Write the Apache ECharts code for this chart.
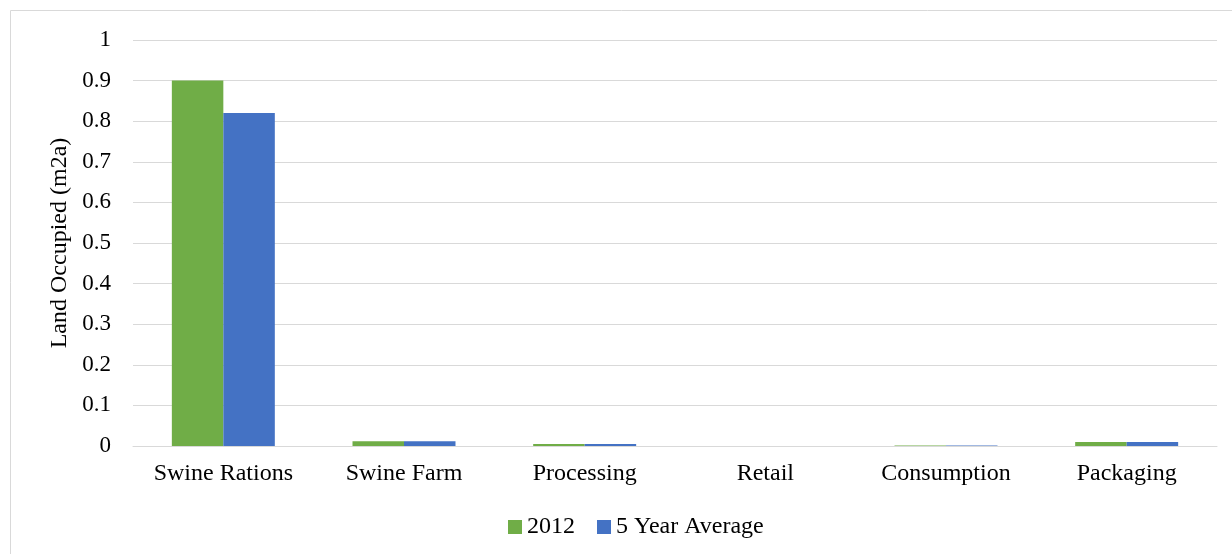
<!DOCTYPE html>
<html><head><meta charset="utf-8">
<script src="https://cdn.jsdelivr.net/npm/echarts@6/dist/echarts.min.js"></script>
<style>html,body{margin:0;padding:0;background:#fff}#c{width:1232px;height:554px}</style>
</head><body><div id="c"></div>
<script>
const categories = ['Swine Rations','Swine Farm','Processing','Retail','Consumption','Packaging'];
const seriesNames = ['2012','5 Year Average'];
const values2012 = [0.9, 0.012, 0.005, 0.0003, 0.001, 0.01];
const valuesAvg = [0.82, 0.012, 0.005, 0.0003, 0.001, 0.01];
const colors = ['#70AD47','#4472C4'];
const font = '"Liberation Serif","Times New Roman",serif';
const chart = echarts.init(document.getElementById('c'));
chart.setOption({
  animation:false,
  textStyle:{fontFamily:font},
  graphic:[{type:'rect',shape:{x:10.5,y:10.5,width:1240,height:560},style:{fill:'none',stroke:'#d9d9d9',lineWidth:1}}],
  grid:{left:133,right:15,top:40,bottom:108},
  legend:{bottom:10,left:503,itemWidth:14,itemHeight:14,itemGap:22,icon:'rect',
    textStyle:{fontFamily:font,fontSize:24,color:'#000'},data:seriesNames},
  xAxis:{type:'category',data:categories,
    axisLine:{lineStyle:{color:'#d9d9d9',width:1}},axisTick:{show:false},
    axisLabel:{fontFamily:font,fontSize:24,color:'#000',margin:16,interval:0}},
  yAxis:{type:'value',min:0,max:1,interval:0.1,
    name:'Land Occupied (m2a)',nameLocation:'middle',nameGap:59,nameRotate:90,
    nameTextStyle:{fontFamily:font,fontSize:24,color:'#000'},
    axisLabel:{fontFamily:font,fontSize:23,color:'#000',margin:22,formatter:v=>String(Math.round(v*10)/10)},
    splitLine:{lineStyle:{color:'#d9d9d9',width:1}},axisLine:{show:false},axisTick:{show:false}},
  series:[
    {name:seriesNames[0],type:'bar',data:values2012,itemStyle:{color:colors[0]},barGap:'0%',barCategoryGap:'43%'},
    {name:seriesNames[1],type:'bar',data:valuesAvg,itemStyle:{color:colors[1]},barGap:'0%',barCategoryGap:'43%'}
  ]
});
</script></body></html>
